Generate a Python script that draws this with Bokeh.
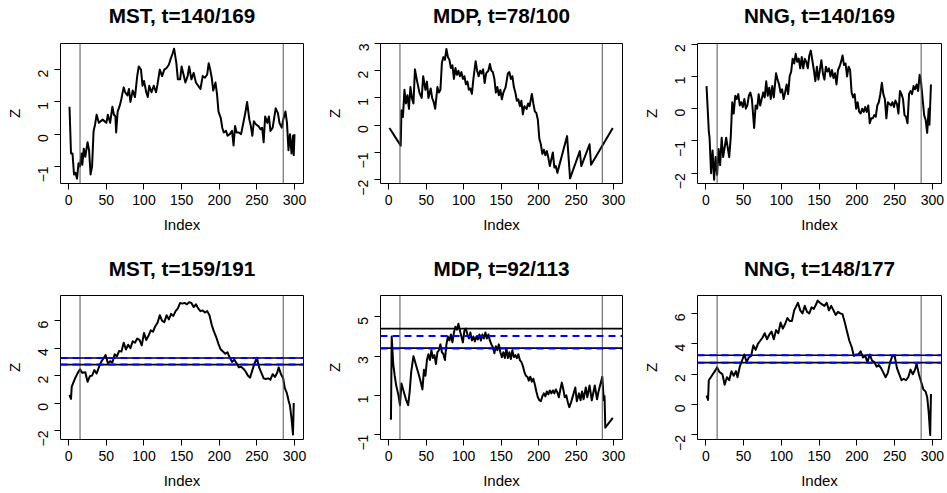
import math
from bokeh.plotting import figure
from bokeh.models import Range1d, FixedTicker, Span, LinearAxis
from bokeh.layouts import column, row
from bokeh.embed import file_html
from bokeh.resources import INLINE

# ---------------- data ----------------
titles = ["MST, t=140/169", "MDP, t=78/100", "NNG, t=140/169",
          "MST, t=159/191", "MDP, t=92/113", "NNG, t=148/177"]
x_label = "Index"
y_label = "Z"
x_ticks = [0, 50, 100, 150, 200, 250, 300]
y_ticks_list = [[-1, 0, 1, 2], [-2, -1, 0, 1, 2, 3], [-2, -1, 0, 1, 2],
                [-2, 0, 2, 4, 6], [-1, 1, 3, 5], [-2, 0, 2, 4, 6]]
y_limits = [(-1.53, 2.81), (-2.14, 3.0), (-2.32, 2.02),
            (-2.66, 7.84), (-1.25, 6.09), (-2.3, 7.18)]
x_limits = (-10.96, 311.96)
change_points = [15, 285]

# horizontal reference levels of the lower panels (black solid, blue dashed)
mst_black = [3.28, 2.80]
mst_blue = [3.28, 2.80]
mdp_black = [4.40, 3.41]
mdp_blue = [4.03, 3.39]
nng_black = [3.25, 2.76]
nng_blue = [3.25, 2.76]

mst_top_x = [1, 3, 5, 7, 9, 11, 13, 15, 17, 18, 20, 22, 25, 27, 29, 31, 33, 35, 37, 40, 45, 50, 52, 55, 58, 60,
             62, 63, 65, 68, 70, 73, 75, 78, 80, 82, 85, 88, 91, 93, 96, 98, 100, 103, 105, 107, 110, 113, 116,
             118, 121, 124, 127, 130, 133, 135, 138, 140, 143, 145, 148, 150, 153, 155, 158, 160, 163, 166, 169,
             172, 175, 178, 181, 184, 186, 188, 190, 192, 195, 197, 199, 202, 204, 206, 209, 211, 214, 217, 219,
             221, 223, 226, 229, 232, 235, 237, 240, 242, 244, 246, 249, 252, 255, 257, 259, 261, 264, 266, 268,
             271, 273, 275, 278, 280, 283, 285, 288, 290, 292, 294, 296, 298, 299, 300]
mst_top_y = [0.85, -0.6, -0.6, -1.25, -1.2, -1.38, -0.9, -1.0, -0.6, -0.95, -0.45, -0.7, -0.25, -0.5, -1.25,
             -1.0, 0.1, 0.3, 0.6, 0.35, 0.45, 0.35, 0.6, 0.35, 0.85, 0.6, 0.55, 0.05, 0.7, 0.9, 1.1, 1.45, 1.3,
             1.2, 1.4, 1.0, 1.35, 1.15, 1.8, 2.1, 2.0, 1.5, 1.65, 1.3, 1.15, 1.5, 1.3, 1.5, 1.3, 1.55, 2.0, 1.8,
             2.0, 2.05, 2.15, 2.3, 2.5, 2.65, 2.2, 1.7, 1.7, 2.1, 1.8, 1.6, 1.8, 2.1, 1.7, 1.9, 1.6, 1.5, 1.4,
             1.8, 1.75, 1.85, 2.2, 2.0, 1.75, 1.35, 1.6, 1.25, 0.7, 0.5, 0.2, 0.05, 0.1, -0.05, 0.0, 0.1, -0.35,
             0.25, 0.05, 0.05, 0.0, 0.35, 0.7, 1.0, 0.45, 0.25, -0.05, 0.4, 0.3, 0.25, 0.15, 0.2, -0.25, 0.55,
             0.35, 0.55, 0.1, 0.2, 0.5, 0.8, 0.65, 0.35, 0.2, 0.45, 0.7, 0.35, -0.5, 0.0, -0.6, -0.05, -0.65, 0.0]

mdp_top_x = [1, 16, 17, 19, 21, 23, 25, 27, 29, 31, 33, 35, 38, 41, 44, 46, 49, 51, 53, 56, 58, 60, 62, 65, 67,
             69, 71, 73, 75, 77, 79, 81, 83, 85, 87, 89, 91, 93, 95, 97, 99, 101, 103, 105, 107, 109, 111, 113,
             116, 118, 120, 122, 124, 126, 128, 130, 133, 135, 137, 139, 141, 143, 145, 147, 149, 151, 153, 156,
             159, 161, 163, 165, 167, 169, 171, 173, 175, 177, 179, 181, 184, 186, 188, 191, 193, 195, 197, 199,
             201, 203, 205, 207, 209, 211, 213, 215, 217, 219, 221, 223, 225, 238, 242, 255, 257, 268, 270, 299]
mdp_top_y = [-0.1, -0.75, 0.55, 0.3, 1.3, 0.8, 1.1, 0.6, 1.4, 1.0, 0.8, 2.05, 1.6, 1.2, 1.0, 1.8, 1.3, 1.6,
             1.0, 1.35, 1.0, 0.85, 0.6, 1.4, 1.2, 1.3, 2.3, 2.5, 2.4, 2.8, 2.5, 2.4, 2.1, 2.2, 1.7, 2.1, 1.85,
             2.0, 1.8, 1.95, 1.7, 1.8, 1.5, 1.6, 1.3, 1.35, 1.15, 1.7, 2.35, 2.0, 1.8, 2.0, 1.9, 2.05, 1.55, 1.9,
             2.0, 2.25, 2.0, 1.95, 1.7, 1.2, 1.4, 1.1, 1.3, 0.95, 1.2, 1.4, 1.9, 1.95, 1.7, 1.8, 1.4, 1.2, 0.9,
             0.95, 0.7, 0.9, 0.4, 0.7, 0.6, 0.8, 0.7, 1.15, 0.8, 0.5, 0.45, 0.2, -0.5, -0.7, -1.05, -0.9, -1.1,
             -0.95, -1.2, -1.5, -1.25, -1.0, -1.55, -1.5, -1.75, -0.4, -1.95, -0.95, -1.5, -0.7, -1.45, -0.1]

nng_top_x = [1, 4, 5, 7, 9, 11, 13, 15, 17, 19, 21, 23, 25, 27, 29, 31, 33, 35, 37, 39, 41, 43, 45, 47, 49, 51,
             53, 55, 57, 59, 61, 62, 64, 66, 68, 70, 72, 74, 76, 78, 80, 82, 84, 86, 88, 90, 93, 95, 97, 99, 101,
             103, 105, 107, 109, 111, 113, 115, 117, 119, 121, 123, 125, 127, 129, 131, 133, 135, 137, 139, 141,
             143, 145, 147, 149, 151, 153, 155, 157, 159, 161, 163, 165, 167, 169, 171, 173, 175, 177, 179, 181,
             183, 185, 187, 189, 191, 193, 195, 197, 199, 201, 203, 205, 207, 209, 211, 213, 215, 217, 219, 221,
             223, 225, 227, 229, 231, 233, 235, 237, 239, 241, 243, 245, 247, 249, 251, 253, 255, 257, 259, 261,
             263, 265, 267, 269, 271, 273, 275, 277, 279, 281, 283, 285, 287, 289, 291, 293, 295, 296, 298]
nng_top_y = [0.7, -0.7, -0.9, -2.0, -1.3, -2.2, -1.5, -2.05, -1.25, -1.75, -0.9, -1.5, -1.2, -0.9, -1.2, -1.5,
             -0.9, 0.2, -0.15, 0.4, 0.3, 0.45, 0.1, 0.2, 0.05, 0.3, 0.0, 0.1, 0.4, 0.5, 0.3, 0.0, -0.6, 0.1, 0.0,
             0.45, 0.1, 0.3, 0.5, 0.35, 0.85, 0.4, 0.65, 0.3, 0.7, 0.35, 1.1, 0.9, 0.75, 0.5, 0.6, 0.3, 0.5, 0.75,
             0.45, 1.0, 1.15, 1.55, 1.4, 1.7, 1.45, 1.55, 1.25, 1.6, 1.25, 1.55, 1.45, 1.25, 1.65, 1.8, 1.5, 1.2,
             0.85, 1.3, 0.9, 1.2, 1.5, 1.1, 0.9, 1.3, 1.15, 1.25, 1.0, 1.2, 0.95, 1.1, 0.75, 1.2, 1.3, 1.45, 1.65,
             1.35, 1.4, 1.0, 1.3, 1.2, 0.5, 0.35, 0.45, 0.0, 0.2, -0.1, -0.15, 0.0, -0.1, 0.05, -0.1, 0.1, -0.45,
             -0.3, -0.3, -0.2, -0.25, 0.1, 0.2, 0.45, 0.8, 0.45, 0.3, -0.3, 0.2, 0.15, 0.1, 0.2, 0.05, 0.25, 0.15,
             -0.15, 0.55, 0.45, 0.3, -0.2, -0.25, -0.45, 0.45, 0.55, 0.45, 0.7, 0.6, 0.75, 0.55, 1.05, 0.8, 0.3,
             -0.2, -0.35, -0.75, 0.0, -0.5, 0.75]

mst_bot_x = [1, 3, 4, 8, 12, 15, 18, 22, 25, 28, 31, 34, 37, 40, 43, 46, 49, 52, 55, 58, 61, 64, 67, 70, 73, 76,
             79, 82, 85, 88, 91, 94, 97, 100, 103, 106, 109, 112, 115, 118, 121, 124, 127, 130, 133, 136, 139,
             142, 145, 148, 151, 154, 157, 160, 163, 166, 169, 172, 175, 178, 181, 184, 187, 190, 193, 196, 199,
             202, 205, 208, 211, 214, 217, 220, 223, 226, 229, 232, 235, 238, 241, 244, 247, 250, 253, 256, 259,
             262, 265, 268, 271, 274, 277, 279, 282, 285, 287, 290, 292, 294, 296, 298, 299]
mst_bot_y = [0.6, 0.3, 1.2, 1.75, 2.2, 2.45, 2.2, 2.25, 1.55, 1.95, 2.0, 2.4, 2.15, 2.6, 3.0, 3.25, 3.5, 2.9,
             3.05, 2.95, 3.55, 3.4, 3.8, 3.75, 4.4, 3.9, 4.25, 4.0, 4.5, 4.4, 4.7, 4.6, 4.2, 5.1, 4.6, 4.9, 5.3,
             5.2, 5.6, 5.85, 6.4, 6.0, 5.9, 6.4, 6.1, 6.5, 6.35, 6.7, 6.9, 7.3, 7.25, 7.3, 7.2, 7.35, 7.3, 7.0,
             7.2, 6.9, 6.7, 6.75, 6.6, 6.7, 6.4, 5.7, 5.2, 4.8, 4.3, 3.9, 3.75, 3.6, 3.7, 3.3, 3.0, 3.15, 2.9,
             2.6, 2.65, 2.5, 2.3, 2.0, 1.85, 2.4, 2.9, 3.3, 2.6, 2.2, 1.8, 1.75, 1.8, 1.7, 2.1, 1.9, 2.2, 2.6,
             2.1, 1.8, 1.1, 0.7, 0.2, -0.2, -1.1, -2.3, 0.0]

mdp_bot_x = [2, 3, 4, 6, 8, 10, 13, 15, 17, 20, 23, 26, 28, 30, 33, 36, 39, 42, 45, 47, 49, 51, 53, 55, 57, 59,
             61, 63, 65, 67, 69, 71, 73, 75, 77, 79, 81, 83, 85, 87, 89, 91, 93, 95, 97, 99, 101, 103, 105, 107,
             109, 111, 113, 115, 117, 119, 121, 123, 125, 127, 129, 131, 133, 135, 137, 139, 141, 143, 145, 147,
             149, 151, 153, 155, 157, 159, 161, 163, 165, 167, 169, 171, 173, 175, 177, 179, 181, 183, 185, 187,
             189, 191, 193, 195, 197, 199, 201, 203, 205, 207, 209, 211, 213, 215, 217, 219, 221, 223, 225, 227,
             229, 231, 233, 235, 237, 239, 241, 243, 246, 249, 251, 254, 256, 258, 260, 263, 265, 268, 271, 275,
             278, 280, 285, 287, 288, 289, 299]
mdp_bot_y = [-0.15, -0.2, 4.0, 2.6, 2.0, 1.5, 1.0, 0.5, 1.6, 1.2, 0.8, 0.5, 1.2, 2.2, 3.0, 2.6, 2.2, 1.8, 1.3,
             2.3, 2.0, 2.8, 3.1, 2.8, 3.3, 2.9, 3.05, 2.6, 3.2, 3.3, 3.6, 3.2, 3.1, 2.8, 3.6, 4.0, 3.8, 4.1, 3.7,
             4.2, 4.5, 4.35, 4.65, 4.3, 4.0, 3.7, 4.3, 4.4, 4.1, 3.9, 4.2, 3.8, 4.0, 3.75, 4.0, 3.85, 4.1, 3.8,
             4.1, 3.9, 4.2, 3.9, 4.1, 3.8, 3.6, 3.45, 3.15, 3.5, 3.3, 3.6, 3.2, 2.95, 3.2, 2.9, 3.4, 2.9, 3.2,
             2.85, 3.3, 2.95, 3.05, 2.9, 3.1, 2.8, 2.7, 2.5, 2.2, 2.0, 1.95, 1.75, 1.95, 1.7, 1.85, 1.55, 1.2,
             0.9, 0.75, 0.7, 0.95, 1.1, 0.95, 1.2, 1.05, 1.25, 1.1, 1.25, 1.1, 1.3, 1.15, 0.9, 1.3, 1.65, 1.3,
             0.9, 1.0, 0.65, 0.4, 0.6, 1.0, 1.4, 0.7, 1.1, 0.75, 1.2, 0.8, 1.4, 0.9, 1.5, 0.75, 1.5, 0.8, 1.2,
             1.95, 0.75, 0.95, -0.65, -0.15]

nng_bot_x = [1, 3, 4, 8, 12, 15, 18, 22, 25, 28, 31, 34, 37, 40, 42, 45, 48, 51, 54, 57, 60, 63, 66, 69, 72, 75,
             78, 81, 84, 87, 90, 93, 96, 99, 102, 105, 108, 111, 114, 117, 120, 122, 125, 128, 131, 134, 137, 140,
             143, 146, 148, 151, 154, 157, 160, 163, 166, 169, 172, 175, 178, 181, 184, 187, 190, 193, 196, 199,
             202, 205, 208, 211, 214, 217, 220, 223, 226, 229, 232, 235, 238, 241, 244, 247, 250, 253, 256, 259,
             262, 265, 268, 271, 274, 277, 279, 282, 285, 288, 291, 293, 295, 297, 298]
nng_bot_y = [0.6, 0.3, 1.6, 1.9, 2.2, 2.45, 2.15, 2.0, 1.3, 1.8, 1.6, 2.2, 1.9, 2.2, 1.8, 2.5, 2.9, 3.3, 2.8,
             3.1, 3.2, 3.9, 3.6, 4.0, 4.2, 4.4, 4.7, 4.3, 4.6, 4.8, 4.3, 4.9, 4.7, 5.4, 5.0, 5.3, 5.7, 5.5, 5.5,
             6.2, 6.5, 6.7, 6.2, 6.0, 6.5, 6.1, 6.0, 6.4, 6.3, 6.6, 6.85, 6.7, 6.6, 6.5, 6.7, 6.2, 6.5, 6.2, 5.9,
             6.1, 6.0, 5.95, 5.4, 4.8, 4.2, 3.8, 3.2, 3.3, 3.3, 3.5, 3.1, 3.2, 2.8, 3.3, 2.9, 2.8, 2.5, 2.6, 2.4,
             2.1, 1.8, 2.1, 2.8, 3.2, 3.2, 2.4, 2.0, 1.6, 1.7, 1.6, 1.8, 2.3, 2.0, 2.3, 2.7, 2.0, 1.5, 1.0, 0.85,
             0.5, -0.5, -2.0, 0.7]

series_x = [mst_top_x, mdp_top_x, nng_top_x, mst_bot_x, mdp_bot_x, nng_bot_x]
series_y = [mst_top_y, mdp_top_y, nng_top_y, mst_bot_y, mdp_bot_y, nng_bot_y]
black_levels = [None, None, None, mst_black, mdp_black, nng_black]
blue_levels = [None, None, None, mst_blue, mdp_blue, nng_blue]

# ---------------- layout (pixels) ----------------
FONT = "Liberation Sans"
col_w = [320, 317, 310]
col_l = [60, 60, 60]
col_r = [17, 15, 6]
row_h = [248, 245]
row_t = [40, 47]
row_b = [65, 54]
title_gap = [17, 16]   # title baseline distance above the plot box
title_pos = (x_limits[0] + x_limits[1]) / 2


def make_panel(i):
    r, c = divmod(i, 3)
    p = figure(width=col_w[c], height=row_h[r], title=None,
               x_range=Range1d(*x_limits), y_range=Range1d(*y_limits[i]),
               output_backend="svg", toolbar_location=None,
               min_border_left=col_l[c], min_border_right=col_r[c],
               min_border_top=row_t[r], min_border_bottom=row_b[r],
               background_fill_color="white", border_fill_color="white")
    p.xgrid.visible = False
    p.ygrid.visible = False
    p.outline_line_color = "black"
    p.outline_line_width = 1
    p.outline_line_alpha = 1.0

    for ax, ticks in ((p.xaxis[0], x_ticks), (p.yaxis[0], y_ticks_list[i])):
        ax.ticker = FixedTicker(ticks=ticks)
        ax.bounds = (ticks[0], ticks[-1])
        ax.minor_tick_line_color = None
        ax.major_tick_in = 0
        ax.major_tick_out = 6
        ax.major_tick_line_color = "black"
        ax.axis_line_color = "black"
        ax.major_label_text_font = FONT
        ax.major_label_text_font_size = "14px"
        ax.major_label_text_color = "black"
        ax.axis_label_text_font = FONT
        ax.axis_label_text_font_size = "15px"
        ax.axis_label_text_font_style = "normal"
        ax.axis_label_text_color = "black"
    p.xaxis.axis_label = x_label
    p.yaxis.axis_label = y_label
    p.xaxis.major_label_standoff = 5
    p.xaxis.axis_label_standoff = 8
    p.yaxis.major_label_standoff = 11
    p.yaxis.axis_label_standoff = 8
    p.yaxis.major_label_orientation = math.pi / 2

    # panel title, drawn as the single label of an axis above the plot box
    title_axis = LinearAxis(ticker=FixedTicker(ticks=[title_pos]),
                            major_label_overrides={title_pos: titles[i]},
                            axis_line_color=None, major_tick_line_color=None,
                            minor_tick_line_color=None, major_tick_in=0, major_tick_out=0,
                            major_label_standoff=title_gap[r],
                            major_label_text_font=FONT, major_label_text_font_size="20.7px",
                            major_label_text_font_style="bold", major_label_text_color="black",
                            major_label_text_line_height=1.0)
    p.add_layout(title_axis, "above")

    for cp in change_points:
        p.add_layout(Span(location=cp, dimension="height", line_color="#555555", line_width=1))
    if black_levels[i] is not None:
        for lv in black_levels[i]:
            p.add_layout(Span(location=lv, dimension="width", line_color="black", line_width=1.6))
        for lv in blue_levels[i]:
            p.add_layout(Span(location=lv, dimension="width", line_color="#0000ff",
                              line_width=2, line_dash="7 5"))
    p.line(series_x[i], series_y[i], line_color="black", line_width=2, line_join="round")
    return p


panels = [make_panel(i) for i in range(6)]
layout = column(row(*panels[:3]), row(*panels[3:]))

open("out.html", "w").write(file_html(layout, INLINE))
